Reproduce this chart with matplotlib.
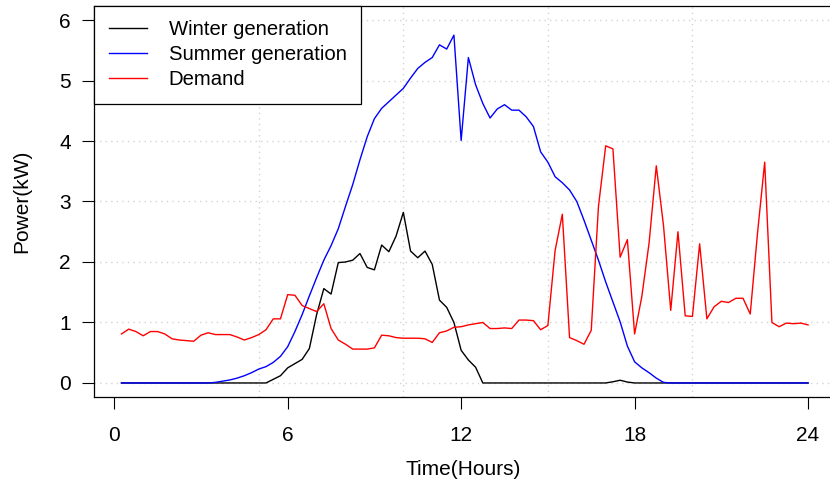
import numpy as np
import matplotlib
matplotlib.use("Agg")
import matplotlib.pyplot as plt

plt.rcParams["font.family"] = ["Liberation Sans", "DejaVu Sans"]

# Quarter-hour samples over one day (hours)
hours = np.arange(1, 97) / 4.0

winter_generation = [
    0, 0, 0, 0, 0, 0, 0, 0, 0, 0, 0, 0, 0, 0, 0, 0,
    0, 0, 0, 0, 0, 0.06, 0.12, 0.25, 0.32, 0.39, 0.57, 1.13, 1.56, 1.47, 1.99, 2.00,
    2.03, 2.14, 1.91, 1.87, 2.28, 2.17, 2.43, 2.82, 2.18, 2.07, 2.18, 1.96, 1.37, 1.25, 1.00, 0.54,
    0.38, 0.26, 0, 0, 0, 0, 0, 0, 0, 0, 0, 0, 0, 0, 0, 0,
    0, 0, 0, 0, 0.02, 0.045, 0.015, 0, 0, 0, 0, 0, 0, 0, 0, 0,
    0, 0, 0, 0, 0, 0, 0, 0, 0, 0, 0, 0, 0, 0, 0, 0,
]

summer_generation = [
    0, 0, 0, 0, 0, 0, 0, 0, 0, 0, 0, 0, 0, 0.01, 0.03, 0.05,
    0.08, 0.12, 0.17, 0.23, 0.27, 0.34, 0.44, 0.60, 0.85, 1.13, 1.44, 1.74, 2.03, 2.27, 2.55, 2.92,
    3.28, 3.69, 4.07, 4.37, 4.54, 4.65, 4.76, 4.87, 5.04, 5.20, 5.30, 5.38, 5.59, 5.52, 5.75, 4.01,
    5.38, 4.93, 4.62, 4.38, 4.53, 4.60, 4.51, 4.51, 4.40, 4.24, 3.82, 3.65, 3.41, 3.31, 3.19, 3.00,
    2.69, 2.36, 2.03, 1.67, 1.34, 1.01, 0.61, 0.35, 0.25, 0.17, 0.08, 0.01, 0, 0, 0, 0,
    0, 0, 0, 0, 0, 0, 0, 0, 0, 0, 0, 0, 0, 0, 0, 0,
]

demand = [
    0.81, 0.89, 0.85, 0.78, 0.85, 0.85, 0.81, 0.73, 0.71, 0.70, 0.69, 0.79, 0.83, 0.80, 0.80, 0.80,
    0.76, 0.71, 0.75, 0.80, 0.88, 1.06, 1.06, 1.46, 1.45, 1.28, 1.23, 1.18, 1.31, 0.90, 0.71, 0.64,
    0.56, 0.56, 0.56, 0.58, 0.79, 0.78, 0.75, 0.74, 0.74, 0.74, 0.73, 0.67, 0.83, 0.86, 0.92, 0.93,
    0.96, 0.98, 1.00, 0.90, 0.90, 0.91, 0.90, 1.04, 1.04, 1.03, 0.88, 0.95, 2.19, 2.79, 0.75, 0.70,
    0.64, 0.87, 2.92, 3.92, 3.87, 2.08, 2.37, 0.81, 1.43, 2.31, 3.59, 2.60, 1.20, 2.50, 1.11, 1.10,
    2.30, 1.06, 1.26, 1.35, 1.33, 1.40, 1.40, 1.14, 2.47, 3.65, 1.00, 0.93, 0.99, 0.98, 0.99, 0.96,
]

x_ticks = [0, 6, 12, 18, 24]
x_grid = [0, 5, 10, 15, 20]
y_ticks = [0, 1, 2, 3, 4, 5, 6]

FS = 15

fig = plt.figure(figsize=(8.30, 4.87), dpi=100)
ax = fig.add_axes([94 / 830, 0.1838, 0.8934, 0.8049])

ax.plot(hours, winter_generation, color="black", lw=1.0, label="Winter generation")
ax.plot(hours, summer_generation, color="#0000FF", lw=1.0, label="Summer generation")
ax.plot(hours, demand, color="#FF0000", lw=1.0, label="Demand")

span = hours[-1] - hours[0]
ax.set_xlim(hours[0] - 0.04 * span, hours[-1] + 0.04 * span)
ax.set_ylim(-0.24, 6.24)

ax.set_xticks(x_ticks)
ax.set_xticklabels([str(t) for t in x_ticks])
ax.set_xticks(x_grid, minor=True)
ax.set_yticks(y_ticks)

grid_style = dict(color="#D3D3D3", linestyle=(0, (1, 3)), linewidth=1.0)
ax.grid(True, which="minor", axis="x", **grid_style)
ax.grid(True, which="major", axis="y", **grid_style)
ax.set_axisbelow(True)

ax.tick_params(axis="both", which="major", direction="out", length=8.6, width=0.8,
               labelsize=FS, colors="black")
ax.tick_params(axis="x", which="major", pad=12)
ax.tick_params(axis="y", which="major", pad=8)
ax.tick_params(axis="x", which="minor", length=0)

for s in ax.spines.values():
    s.set_linewidth(0.9)
    s.set_color("black")

ax.set_xlabel("Time(Hours)", fontsize=FS)
ax.set_ylabel("Power(kW)", fontsize=FS)
ax.xaxis.set_label_coords(0.4985, -0.16)
ax.yaxis.set_label_coords(-0.085, 0.5)

leg = ax.legend(loc="upper left", bbox_to_anchor=(0, 1), borderaxespad=0,
                fontsize=14.6, frameon=True, fancybox=False, framealpha=1,
                edgecolor="black", handlelength=1.87, handletextpad=1.1,
                labelspacing=0.3, borderpad=0.72)
leg.get_frame().set_linewidth(0.9)

fig.savefig("out.png", dpi=100)
